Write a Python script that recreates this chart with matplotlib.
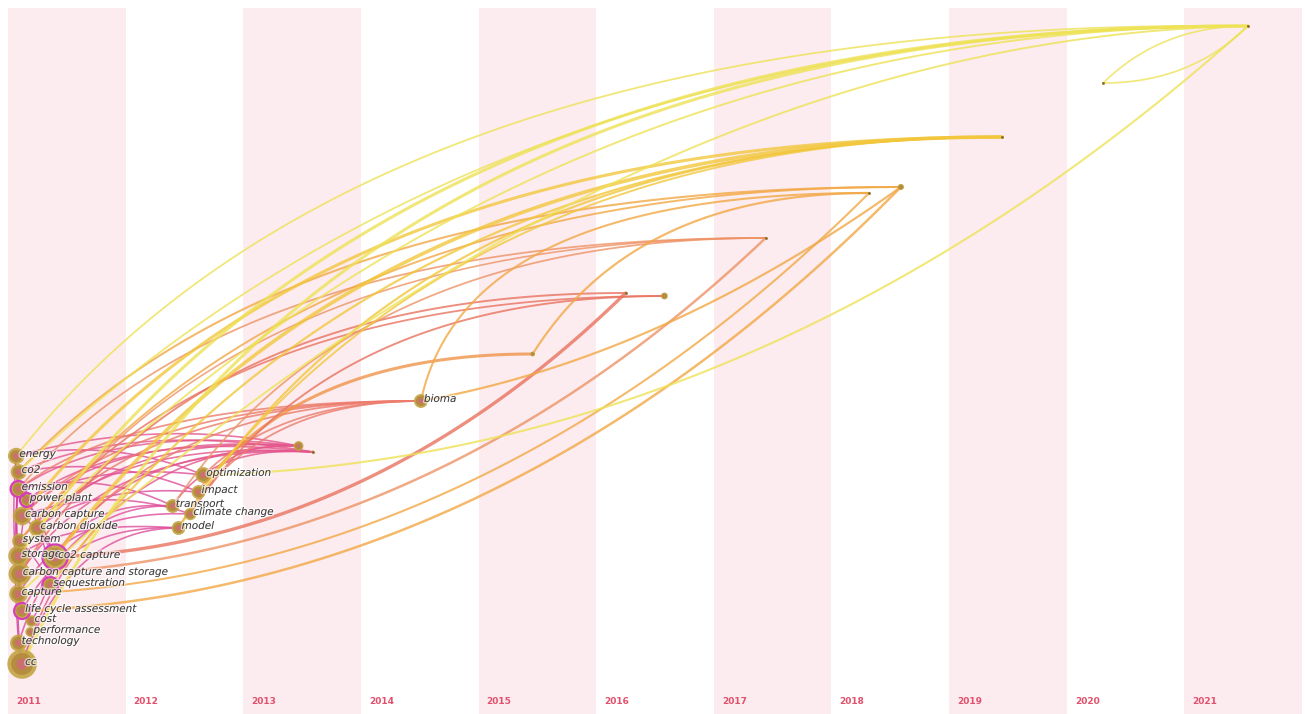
import numpy as np
import matplotlib
matplotlib.use("Agg")
import matplotlib.pyplot as plt
import matplotlib.patheffects as pe

# ---------------- data ----------------
years = list(range(2011, 2022))

node_labels = ["energy", "co2", "emission", "power plant", "carbon capture",
               "carbon dioxide", "system", "storage", "co2 capture",
               "carbon capture and storage", "sequestration", "capture",
               "life cycle assessment", "cost", "performance", "technology", "cc",
               "optimization", "impact", "transport", "climate change", "model",
               "", "", "bioma", "", "", "", "", "", "", "", "", ""]
node_time = [2011.07, 2011.09, 2011.09, 2011.16, 2011.12, 2011.25, 2011.10,
             2011.09, 2011.40, 2011.10, 2011.36, 2011.09, 2011.12, 2011.20,
             2011.19, 2011.09, 2011.12,
             2012.66, 2012.62, 2012.40, 2012.55, 2012.45,
             2013.47, 2013.59, 2014.51, 2015.46, 2016.58, 2016.25, 2017.44,
             2018.59, 2018.32, 2019.45, 2020.31, 2021.54]
node_row = [456, 472, 489, 500, 516, 528, 541, 556, 557, 574, 585, 594, 611,
            621, 632, 643, 664,
            475, 492, 506, 514, 528,
            446, 452, 401, 354, 296, 293, 238, 187, 193, 137, 83, 26]
node_freq = [14, 13, 12, 9, 18, 15, 12, 22, 30, 26, 12, 18, 12, 7, 5, 15, 45,
             13, 10, 10, 8, 10,
             5, 0.5, 10, 1.2, 2.5, 0.2, 0.2, 2.0, 0.2, 0.2, 0.2, 0.2]
node_ring = [0, 0, 1, 1, 0, 0, 0, 0, 1, 0, 1, 0, 1, 0, 0, 0, 0,
             0, 0, 0, 0, 0, 0, 0, 0, 0, 0, 0, 0, 0, 0, 0, 0, 0]

edge_source = [0, 1, 2, 1, 3, 4, 7, 8, 2, 11, 5, 6, 0, 9, 3,
               0, 1, 2, 4, 7, 8, 16, 5, 11, 12, 15, 3,
               0, 1, 2, 3, 4, 8, 7, 6, 16, 19, 18, 9,
               4, 8, 7, 17, 21, 2,
               18,
               8, 9, 20, 6,
               2, 19, 9, 5,
               1, 6, 25, 24, 12, 11, 24,
               4, 8, 10, 21, 18,
               0, 7, 16, 5, 11, 17, 32, 32, 1]
edge_target = [11, 9, 7, 15, 10, 8, 12, 13, 8, 16, 8, 10, 2, 12, 12,
               17, 18, 19, 20, 21, 19, 21, 18, 20, 21, 19, 17,
               22, 23, 22, 23, 22, 23, 22, 23, 22, 23, 22, 23,
               24, 24, 24, 24, 24, 24,
               25,
               27, 27, 26, 26,
               28, 28, 28, 28,
               29, 29, 30, 29, 29, 30, 30,
               31, 31, 31, 31, 31,
               33, 33, 33, 33, 33, 33, 33, 33, 33]
edge_year = [2011] * 15 + [2012] * 12 + [2013] * 12 + [2014] * 6 + [2015] + \
            [2016] * 4 + [2017] * 4 + [2018] * 7 + [2019] * 5 + [2021] * 9

# ---------------- style ----------------
# curve control point: (fraction of dx, fraction of dy, perpendicular bulge)
edge_bend = [(0.5, 0.5, -0.05), (0.5, 0.5, -0.05), (0.5, 0.5, -0.06), (0.5, 0.5, -0.04),
             (0.5, 0.5, 0.10), (0.5, 0.5, 0.10), (0.5, 0.5, -0.06), (0.5, 0.5, 0.10),
             (0.5, 0.5, 0.08), (0.5, 0.5, -0.05), (0.5, 0.5, 0.10), (0.5, 0.5, 0.08),
             (0.5, 0.5, -0.10), (0.5, 0.5, -0.08), (0.5, 0.5, -0.08),
             (0.5, 0.5, 0.15), (0.5, 0.5, 0.15), (0.5, 0.5, 0.18), (0.5, 0.5, 0.18),
             (0.3, 1.0, 0.05), (0.3, 1.0, 0.05), (0.3, 1.0, 0.0), (0.35, 1.0, 0.05),
             (0.3, 1.0, 0.03), (0.3, 1.0, 0.03), (0.3, 1.0, 0.02), (0.4, 0.8, 0.10),
             (0.5, 0.5, 0.12), (0.4, 0.8, 0.12), (0.35, 1.0, 0.08), (0.35, 1.0, 0.08),
             (0.3, 1.0, 0.05), (0.3, 1.0, 0.05), (0.3, 1.0, 0.05), (0.3, 1.0, 0.05),
             (0.25, 1.0, 0.0), (0.3, 1.0, 0.05), (0.3, 1.0, 0.05), (0.3, 1.0, 0.03),
             (0.28, 1.0, 0), (0.3, 1.0, 0), (0.25, 1.0, 0), (0.35, 1.0, 0),
             (0.3, 1.0, 0), (0.28, 1.0, 0),
             (0.3, 1.0, 0),
             (0.55, 0.05, 0), (0.28, 1.0, 0), (0.3, 1.0, 0), (0.3, 1.0, 0),
             (0.28, 1.0, 0), (0.3, 1.0, 0), (0.55, 0.05, 0), (0.3, 1.0, 0),
             (0.3, 1.0, 0), (0.32, 1.0, 0), (0.3, 1.0, 0), (0.5, 0.2, 0),
             (0.55, 0.05, 0), (0.55, 0.05, 0), (0.1, 1.0, 0),
             (0.3, 1.0, 0), (0.33, 1.0, 0), (0.36, 1.0, 0), (0.3, 1.0, 0), (0.35, 1.0, 0),
             (0.28, 1.02, 0), (0.3, 1.0, 0), (0.25, 1.0, 0), (0.42, 1.0, 0),
             (0.5, 0.98, 0), (0.535, 0.033, 0), (0.4, 1.0, 0), (0.6, 0.0, 0),
             (0.38, 1.0, 0)]
edge_width = [1.0] * 15 + [1.2] * 12 + [1.2] * 12 + [1.3] * 6 + [2.2] + \
             [2.4, 1.4, 1.4, 1.3] + [1.3, 1.3, 1.8, 1.2] + \
             [1.5, 1.4, 1.6, 1.6, 1.8, 1.5, 1.5] + [2.2, 2.6, 1.6, 1.6, 1.4] + \
             [1.3, 2.2, 2.2, 1.4, 1.4, 1.5, 1.2, 1.2, 1.3]
year_color = {2011: "#d23c9e", 2012: "#df4f9c", 2013: "#e4568c",
              2014: "#ec7c6c", 2015: "#ef9448", 2016: "#e9735f",
              2017: "#ee9366", 2018: "#f2a845", 2019: "#f2c73c",
              2020: "#efdf4c", 2021: "#eee256"}

PX = 117.64  # pixels per year (for drawing curves with a uniform metric)

fig = plt.figure(figsize=(13.05, 7.14), dpi=100)
ax = fig.add_axes([0, 0, 1, 1])
ax.set_xlim(2011 - 8 / PX, 2011 + 1297 / PX)
ax.set_ylim(714, 0)
ax.axis("off")

# timezone columns
for y in years:
    if (y - 2011) % 2 == 0:
        ax.axvspan(y, y + 1, ymin=0, ymax=1 - 8 / 714, color="#fcecf0", lw=0, zorder=0)
    ax.text(y + 8 / PX, 702, str(y), color="#e2506c", fontsize=6.5,
            fontweight="bold", va="center", ha="left", zorder=1)


def bezier(i, j, a, b, k):
    x0, y0 = node_time[i] * PX, node_row[i]
    x2, y2 = node_time[j] * PX, node_row[j]
    dx, dy = x2 - x0, y2 - y0
    L = np.hypot(dx, dy)
    nx, ny = dy / L, -dx / L
    cx = x0 + a * dx + k * L * nx
    cy = y0 + b * dy + k * L * ny
    t = np.linspace(0, 1, 120)
    bx = (1 - t) ** 2 * x0 + 2 * t * (1 - t) * cx + t ** 2 * x2
    by = (1 - t) ** 2 * y0 + 2 * t * (1 - t) * cy + t ** 2 * y2
    return bx / PX, by


for s, d, yr, (a, b, k), w in zip(edge_source, edge_target, edge_year, edge_bend, edge_width):
    bx, by = bezier(s, d, a, b, k)
    ax.plot(bx, by, color=year_color[yr], lw=w, alpha=0.8,
            solid_capstyle="round", zorder=2)

# nodes
t_arr = np.array(node_time)
r_arr = np.array(node_row)
rad = 2.2 * np.sqrt(np.array(node_freq))          # radius in px
size = (1.44 * rad) ** 2
ax.scatter(t_arr, r_arr, s=size, c="#c4a444", alpha=0.9, lw=0, zorder=3)
ax.scatter(t_arr, r_arr, s=size * 0.55, c="#b38a3c", alpha=0.9, lw=0, zorder=3)
big = rad > 4
ax.scatter(t_arr[big], r_arr[big], s=size[big] * 0.15, c="#d06a7a",
           alpha=0.8, lw=0, zorder=3)
ring = np.array(node_ring) == 1
ax.scatter(t_arr[ring], r_arr[ring], s=size[ring] * 1.1, facecolors="none",
           edgecolors="#d540b8", lw=1.6, zorder=3)
tiny = rad < 2
ax.scatter(t_arr[tiny], r_arr[tiny], s=4, c="#8a6a2a", lw=0, zorder=3)

halo = [pe.withStroke(linewidth=2.0, foreground="white", alpha=0.6)]
for lab, t, r in zip(node_labels, node_time, node_row):
    if lab:
        ax.annotate(lab, (t, r), xytext=(2.2, 1.5), textcoords="offset points",
                    ha="left", va="center", fontsize=7.5, style="italic",
                    color="#3a3a3a", path_effects=halo, zorder=4)

fig.savefig("out.png", dpi=100)
